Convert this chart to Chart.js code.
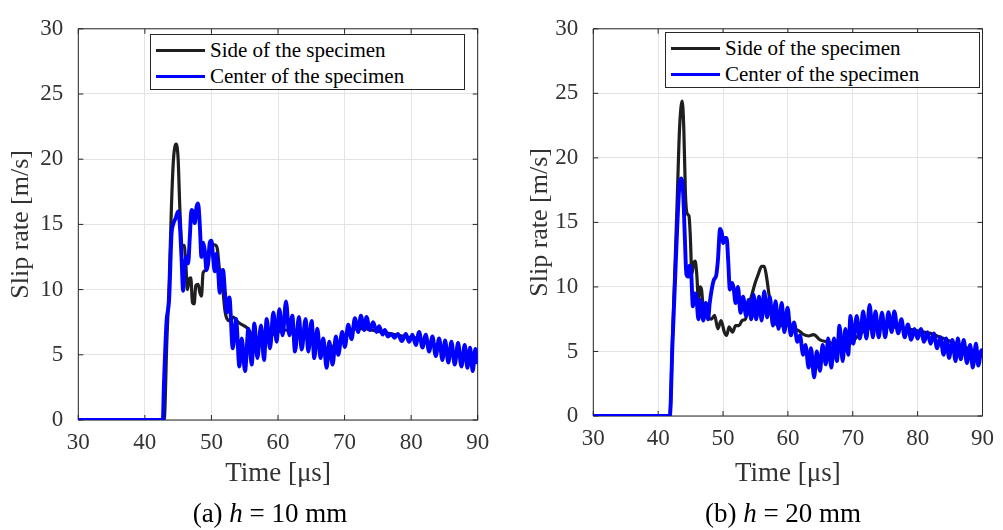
<!DOCTYPE html>
<html>
<head>
<meta charset="utf-8">
<script src="https://cdn.jsdelivr.net/npm/chart.js@4.4.1/dist/chart.umd.min.js"></script>
<style>
    body { margin: 0; background: #fff; width: 1003px; height: 530px; position: relative; overflow: hidden;
           font-family: 'Liberation Serif', 'Times New Roman', serif; }
    .panel { position: absolute; top: 0; height: 530px; }
    .legend { position: absolute; border: 1px solid #262626; background: #fff; box-sizing: border-box;
              font-size: 21px; color: #000; padding-top: 2px; }
    .legend-row { display: flex; align-items: center; height: 26.5px; }
    .legend-line { width: 49px; height: 3px; margin-left: 5px; margin-right: 5px; }
    .caption { position: absolute; font-size: 27px; color: #000; white-space: nowrap;
               transform: translate(-50%, -50%); }
</style>
</head>
<body>

<script>
const xTicks = [30, 40, 50, 60, 70, 80, 90];
const yTicks = [0, 5, 10, 15, 20, 25, 30];
const seriesNames = ['Side of the specimen', 'Center of the specimen'];
const seriesColors = ['#1f1f1f', '#0000ff'];

// (a) h = 10 mm  -- [time in µs, slip rate in m/s]
const sideA = [
    [30, 0], [42.9, 0], [43.3, 6.0], [43.65, 10.5], [44.0, 16.5], [44.3, 20.0], [44.7, 21.15], [45.0, 20.0],
    [45.25, 16.3], [45.6, 13.3], [45.9, 13.4], [46.15, 12.0], [46.4, 10.0], [46.65, 10.8], [46.9, 10.9],
    [47.15, 9.0], [47.4, 8.9], [47.65, 10.3], [48.0, 10.4], [48.25, 9.8], [48.5, 9.5], [48.75, 11.3],
    [49.25, 11.5], [49.5, 12.1], [49.9, 13.6], [50.25, 13.45], [50.65, 13.4], [50.9, 13.1], [51.15, 11.8],
    [51.4, 10.8], [51.75, 9.8], [52.0, 8.5], [52.35, 7.75], [52.8, 7.6], [53.3, 7.9], [53.8, 7.6],
    [54.3, 7.4], [55.0, 7.2], [55.5, 7.0], [56.0, 6.6], [56.5, 6.3], [57.0, 6.1], [57.5, 6.0], [58.0, 6.2],
    [59.0, 6.5], [60.0, 6.75], [61.0, 6.9], [62.0, 6.8], [63.0, 6.6], [64.0, 6.4], [65.0, 6.0], [66.0, 5.7],
    [67.0, 5.5], [68.0, 5.6], [69.0, 5.9], [70.0, 6.4], [71.0, 6.9], [72.0, 7.0], [73.0, 7.0], [74.0, 6.9],
    [75.0, 6.8], [76.0, 6.7], [77.0, 6.6], [78.0, 6.5], [79.0, 6.4], [80.0, 6.3], [81.0, 6.3], [82.0, 6.1],
    [83.0, 5.9], [84.0, 5.7], [85.0, 5.4], [86.0, 5.2], [87.0, 5.1], [88.0, 5.0], [89.0, 4.9], [90.0, 4.8]
];
const centerA = [
    [30, 0], [42.7, 0], [42.85, 2.5], [43.25, 7.5], [43.65, 9.3], [44.0, 14.2], [44.25, 15.0], [44.65, 15.5],
    [45.0, 16.0], [45.25, 15.0], [45.5, 12.5], [45.75, 9.9], [46.0, 11.8], [46.25, 12.5], [46.5, 12.0],
    [46.75, 14.0], [47.0, 16.1], [47.25, 15.9], [47.5, 15.1], [47.75, 16.3], [48.0, 16.6], [48.25, 15.0],
    [48.5, 12.5], [48.75, 13.6], [49.0, 13.0], [49.25, 11.5], [49.5, 12.0], [49.75, 13.6], [50.0, 13.75],
    [50.25, 12.5], [50.5, 11.4], [50.75, 12.75], [51.0, 11.5], [51.25, 9.75], [51.5, 11.25], [51.75, 11.5],
    [52.0, 10.0], [52.3, 8.25], [52.7, 9.4], [53.2, 5.5], [53.7, 7.75], [54.2, 4.1], [54.55, 6.25],
    [55.05, 3.75], [55.55, 7.0], [56.05, 4.25], [56.45, 7.4], [56.9, 4.75], [57.45, 7.25], [57.9, 4.6],
    [58.3, 7.75], [58.8, 5.5], [59.3, 8.25], [59.8, 6.0], [60.2, 8.5], [60.7, 6.5], [61.2, 9.1], [61.7, 6.5],
    [62.15, 8.0], [62.55, 5.25], [63.15, 7.9], [63.55, 5.4], [64.15, 7.75], [64.55, 5.25], [65.05, 7.6],
    [65.45, 4.75], [65.9, 7.0], [66.4, 4.75], [66.8, 6.25], [67.3, 4.0], [67.7, 6.0], [68.2, 4.25],
    [68.7, 6.4], [69.05, 5.0], [69.65, 6.75], [70.05, 5.6], [70.55, 7.3], [71.05, 6.2], [71.55, 7.8],
    [72.05, 6.75], [72.45, 8.0], [72.95, 6.9], [73.3, 7.9], [73.8, 6.9], [74.3, 7.5], [74.8, 6.75],
    [75.2, 7.2], [75.7, 6.55], [76.05, 6.9], [76.5, 6.4], [77.0, 6.6], [77.5, 6.3], [78.0, 6.6], [78.6, 6.05],
    [79.2, 6.6], [79.7, 6.0], [80.2, 6.55], [80.7, 5.75], [81.2, 6.75], [81.7, 5.55], [82.2, 6.55],
    [82.7, 5.25], [83.2, 6.4], [83.7, 4.9], [84.2, 6.25], [84.7, 4.6], [85.1, 6.1], [85.6, 4.4], [86.05, 6.0],
    [86.55, 4.25], [87.05, 5.9], [87.55, 4.1], [88.05, 5.75], [88.45, 4.0], [88.85, 5.55], [89.25, 3.75],
    [89.65, 5.45], [90.0, 4.3]
];

// (b) h = 20 mm
const sideB = [
    [30, 0], [41.8, 0], [42.2, 6.0], [42.55, 11.0], [42.95, 17.0], [43.3, 22.3], [43.7, 24.4], [43.95, 22.3],
    [44.2, 17.3], [44.45, 15.7], [44.75, 15.5], [44.95, 14.0], [45.2, 11.0], [45.45, 11.8], [45.7, 12.0],
    [45.95, 11.0], [46.2, 9.0], [46.45, 10.0], [46.7, 9.75], [46.95, 8.5], [47.35, 8.5], [47.7, 7.65],
    [48.2, 7.5], [48.7, 7.8], [49.2, 6.75], [49.7, 7.4], [50.2, 6.5], [50.55, 6.25], [50.95, 6.9],
    [51.45, 6.5], [51.95, 7.0], [52.45, 7.0], [52.95, 7.4], [53.45, 7.5], [53.95, 8.5], [54.45, 9.4],
    [54.95, 10.3], [55.45, 11.0], [55.95, 11.6], [56.35, 11.6], [56.7, 10.8], [57.2, 9.0], [57.7, 7.5],
    [58.2, 7.1], [58.95, 7.0], [59.95, 7.0], [60.95, 6.75], [61.7, 6.6], [62.45, 6.3], [63.2, 6.2],
    [63.95, 6.3], [64.95, 5.9], [66.0, 5.75], [67.0, 5.6], [68.0, 5.5], [69.0, 5.4], [70.0, 5.8], [71.0, 6.3],
    [72.0, 6.7], [73.0, 6.8], [74.0, 6.9], [75.0, 6.9], [76.0, 6.9], [77.0, 6.85], [78.0, 6.8], [79.0, 6.7],
    [80.0, 6.6], [81.0, 6.5], [82.0, 6.4], [83.0, 6.2], [84.0, 6.0], [85.0, 5.8], [86.0, 5.6], [87.0, 5.4],
    [88.0, 5.2], [89.0, 5.0], [90.0, 4.8]
];
const centerB = [
    [30, 0], [41.8, 0], [42.2, 5.5], [42.55, 9.8], [42.95, 14.8], [43.3, 18.0], [43.55, 18.4], [43.85, 17.3],
    [44.1, 14.0], [44.35, 11.0], [44.6, 10.8], [44.85, 11.65], [45.1, 11.0], [45.35, 8.5], [45.6, 9.5],
    [45.85, 9.4], [46.2, 7.5], [46.55, 9.0], [46.95, 7.4], [47.35, 8.75], [47.7, 7.5], [47.95, 8.75],
    [48.55, 10.5], [48.95, 10.9], [49.2, 12.0], [49.55, 14.5], [49.8, 14.2], [50.05, 13.4], [50.3, 13.8],
    [50.55, 13.8], [50.8, 12.0], [51.05, 9.8], [51.35, 10.3], [51.6, 10.0], [51.95, 8.75], [52.3, 10.0],
    [52.7, 8.0], [53.1, 9.25], [53.55, 7.75], [53.95, 9.0], [54.35, 7.5], [54.7, 9.4], [55.1, 7.5],
    [55.55, 9.25], [55.95, 7.4], [56.35, 9.65], [56.8, 7.65], [57.2, 9.25], [57.7, 7.0], [58.1, 8.9],
    [58.55, 6.75], [59.05, 8.75], [59.45, 6.5], [59.95, 8.4], [60.45, 6.25], [60.95, 7.25], [61.45, 5.75],
    [61.85, 6.25], [62.35, 4.75], [62.7, 5.5], [63.2, 3.75], [63.55, 5.25], [64.05, 3.0], [64.45, 5.0],
    [64.95, 3.5], [65.35, 5.5], [65.85, 4.0], [66.2, 6.0], [66.7, 3.75], [67.1, 6.0], [67.55, 4.25],
    [67.95, 7.0], [68.45, 4.25], [68.85, 6.75], [69.3, 4.75], [69.65, 7.75], [70.1, 5.6], [70.6, 7.75],
    [71.1, 6.0], [71.6, 8.1], [72.1, 6.0], [72.6, 8.6], [73.1, 6.1], [73.5, 8.1], [74.0, 6.1], [74.5, 8.0],
    [75.0, 6.1], [75.5, 8.05], [76.0, 6.5], [76.4, 8.1], [77.0, 6.4], [77.5, 7.5], [78.0, 6.1], [78.5, 7.1],
    [79.0, 5.9], [79.5, 6.75], [80.0, 6.0], [80.5, 6.75], [81.0, 5.75], [81.5, 6.5], [82.0, 5.6], [82.5, 6.4],
    [83.0, 5.25], [83.5, 6.1], [84.0, 4.75], [84.4, 6.0], [84.85, 4.5], [85.35, 5.9], [85.85, 4.25],
    [86.2, 6.0], [86.65, 4.4], [87.1, 5.9], [87.6, 4.1], [88.1, 5.5], [88.5, 3.75], [89.0, 5.6], [89.35, 3.9],
    [89.85, 5.1], [90.0, 4.9]
];

Chart.defaults.font.family = "'Liberation Serif', 'Times New Roman', serif";

// frame round the axes with small inward ticks on all four sides (matlab style)
const boxPlugin = {
    id: 'box',
    beforeDatasetsDraw(chart) {
        const { ctx, chartArea: a, scales: { x, y } } = chart;
        const seg = (x1, y1, x2, y2) => { ctx.moveTo(x1, y1); ctx.lineTo(x2, y2); };
        ctx.save();
        ctx.strokeStyle = '#262626';
        ctx.lineWidth = 1;
        ctx.beginPath();
        ctx.rect(a.left, a.top, a.right - a.left, a.bottom - a.top);
        for (const t of x.ticks) {
            const px = x.getPixelForValue(t.value);
            seg(px, a.bottom, px, a.bottom - 5);
            seg(px, a.top, px, a.top + 5);
        }
        for (const t of y.ticks) {
            const py = y.getPixelForValue(t.value);
            seg(a.left, py, a.left + 5, py);
            seg(a.right, py, a.right - 5, py);
        }
        ctx.stroke();
        ctx.restore();
    }
};

function makePanel(cfg) {
    const div = document.createElement('div');
    div.className = 'panel';
    div.style.left = cfg.left + 'px';
    div.style.width = cfg.width + 'px';
    const canvas = document.createElement('canvas');
    canvas.width = cfg.width;
    canvas.height = 530;
    div.appendChild(canvas);
    document.body.appendChild(div);

    const toPts = arr => arr.map(([t, v]) => ({ x: t, y: v }));
    const chart = new Chart(canvas, {
        type: 'line',
        data: {
            datasets: [
                { label: seriesNames[0], data: toPts(cfg.side), borderColor: seriesColors[0], borderWidth: 3.2,
                  pointRadius: 0, cubicInterpolationMode: 'monotone', order: 1 },
                { label: seriesNames[1], data: toPts(cfg.center), borderColor: seriesColors[1], borderWidth: 3.9,
                  pointRadius: 0, cubicInterpolationMode: 'monotone', order: 0 }
            ]
        },
        options: {
            responsive: false,
            animation: false,
            devicePixelRatio: 1,
            layout: { padding: { top: cfg.padTop, right: cfg.padRight, left: 0, bottom: 0 } },
            plugins: { legend: { display: false }, tooltip: { enabled: false } },
            scales: {
                x: {
                    type: 'linear', min: 30, max: 90,
                    afterBuildTicks: s => { s.ticks = xTicks.map(v => ({ value: v })); },
                    afterFit: s => { s.height = cfg.xHeight; },
                    grid: { color: '#e3e3e3', drawTicks: false },
                    border: { display: false },
                    ticks: { padding: 9, color: '#333', font: { size: 23 } },
                    title: { display: true, text: 'Time [μs]', color: '#333', font: { size: 27 },
                             padding: { top: 0, bottom: 40 } }
                },
                y: {
                    type: 'linear', min: 0, max: 30,
                    afterBuildTicks: s => { s.ticks = yTicks.map(v => ({ value: v })); },
                    afterFit: s => { s.width = 78.3; },
                    grid: { color: '#e3e3e3', drawTicks: false },
                    border: { display: false },
                    ticks: { padding: 15, color: '#333', font: { size: 23 } },
                    title: { display: true, text: 'Slip rate [m/s]', color: '#333', font: { size: 26 },
                             padding: { top: cfg.yTitlePad, bottom: 0 } }
                }
            }
        },
        plugins: [boxPlugin]
    });

    // legend box inside the axes, built from the dataset labels
    const lg = document.createElement('div');
    lg.className = 'legend';
    Object.assign(lg.style, { left: cfg.legend[0] + 'px', top: cfg.legend[1] + 'px',
                              width: cfg.legend[2] + 'px', height: cfg.legend[3] + 'px' });
    lg.innerHTML = chart.data.datasets.map(ds => `
        <div class="legend-row"><span class="legend-line" style="background:${ds.borderColor}"></span>${ds.label}</div>`).join('');
    document.body.appendChild(lg);

    const cap = document.createElement('div');
    cap.className = 'caption';
    cap.style.left = cfg.caption[0] + 'px';
    cap.style.top = cfg.caption[1] + 'px';
    cap.innerHTML = cfg.captionHtml;
    document.body.appendChild(cap);
}

makePanel({ left: 0, width: 500, padTop: 20, padRight: 22.3, xHeight: 110, yTitlePad: 6,
            side: sideA, center: centerA,
            legend: [150, 34, 315, 56], caption: [270, 513], captionHtml: '(a) <i>h</i> = 10 mm' });
makePanel({ left: 515, width: 488, padTop: 18.3, padRight: 10.3, xHeight: 114, yTitlePad: 10,
            side: sideB, center: centerB,
            legend: [665, 32, 315, 56], caption: [783, 513], captionHtml: '(b) <i>h</i> = 20 mm' });
</script>
</body>
</html>
